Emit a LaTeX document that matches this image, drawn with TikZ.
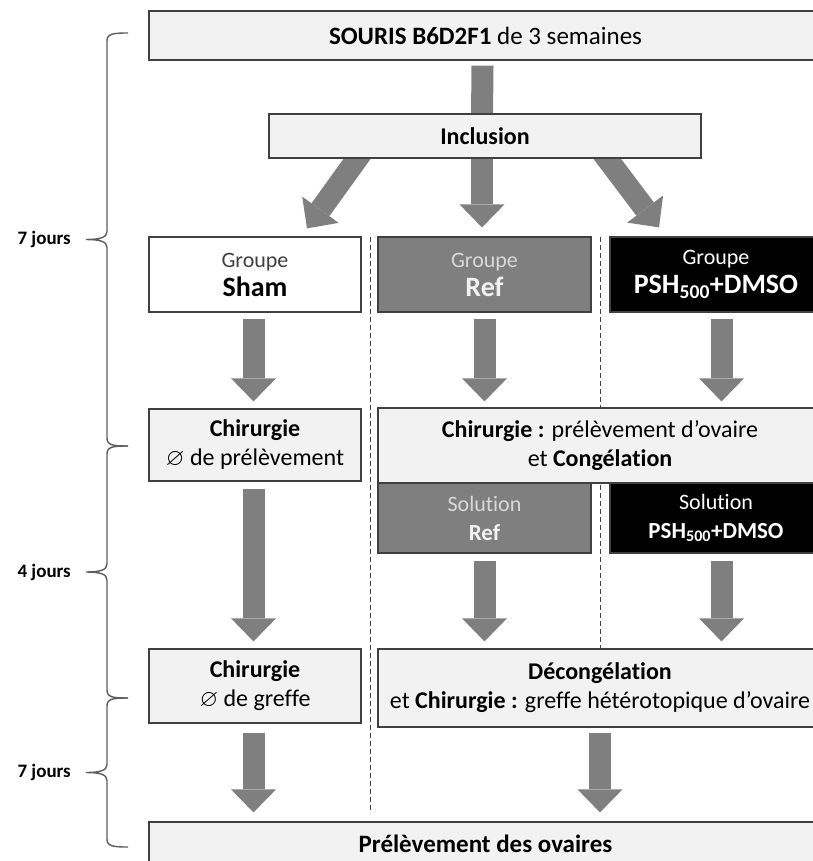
\documentclass[tikz,border=0pt]{standalone}
\usepackage{fontspec}
\setmainfont{Carlito}[Ligatures = NoCommon]
\usepackage{amssymb}
\usetikzlibrary{arrows.meta}
\pgfdeclarelayer{background}
\pgfsetlayers{background,main}

\definecolor{pale}{HTML}{F2F2F2}
\definecolor{mid}{HTML}{7F7F7F}
\definecolor{edge}{HTML}{404040}
\definecolor{light}{HTML}{D9D9D9}
\newcommand{\sz}[2]{\fontsize{#1}{#2}\selectfont}

\tikzset{
    box/.style = {draw = edge, line width = 1.2pt, align = center, inner sep = 0pt, font = \sz{24}{29}},
    pale/.style = {box, fill = pale},
    dark/.style = {box, fill = mid, text = pale},
    night/.style = {box, fill = black, text = white},
    flow/.style = {line width = 22pt, draw = mid, -{Triangle[width = 45pt, length = 23pt, line width = 0pt]}},
    bar/.style = {line width = 22pt, draw = mid},
    sep/.style = {draw = edge, line width = 0.9pt, dash pattern = on 5pt off 3pt},
    curly/.style = {draw = edge!85, line width = 1.4pt},
}

\begin{document}
\begin{tikzpicture}[x = 1pt, y = -1pt]
    \useasboundingbox (0, 0) rectangle (812, 861);

    \node[pale, minimum width = 673pt, minimum height = 49pt, font = \sz{25}{29}] (S) at (485.5, 35.5) {\textbf{SOURIS B6D2F1} de 3 semaines};
    \node[pale, minimum width = 432pt, minimum height = 44pt] (I) at (485, 136) {\textbf{Inclusion}};

    \node[box, fill = white, minimum width = 212pt, minimum height = 75pt] (GS) at (255, 274.5)
        {\sz{22}{26}\color{edge}Groupe\\\color{black}\sz{28}{33}\bfseries Sham};
    \node[dark, minimum width = 213pt, minimum height = 75pt] (GR) at (484.5, 274.5)
        {\sz{22}{26}\color{light}Groupe\\\color{pale}\sz{28}{33}\bfseries Ref};
    \node[night, minimum width = 212pt, minimum height = 75pt] (GP) at (716, 274.5)
        {\sz{22}{26}Groupe\\\sz{28}{33}\bfseries PSH\textsubscript{500}+DMSO};

    \node[pale, minimum width = 212pt, minimum height = 72pt] (CS) at (255, 445)
        {\textbf{Chirurgie}\\$\varnothing$ de prélèvement};
    \node[pale, minimum width = 444pt, minimum height = 75pt] (CC) at (600, 445.5)
        {\textbf{Chirurgie~:} prélèvement d’ovaire\\et \textbf{Congélation}};

    \node[dark, minimum width = 213pt, minimum height = 70pt] (SR) at (484.5, 518)
        {\sz{22}{27}\color{light}Solution\\\color{pale}\sz{23}{27}\bfseries Ref};
    \node[night, minimum width = 212pt, minimum height = 70pt] (SP) at (716, 518)
        {\sz{22}{27}Solution\\\sz{23}{27}\bfseries PSH\textsubscript{500}+DMSO};

    \node[pale, minimum width = 212pt, minimum height = 74pt] (DS) at (255, 686)
        {\sz{24}{31}\textbf{Chirurgie}\\$\varnothing$ de greffe};
    \node[pale, minimum width = 444pt, minimum height = 78pt] (DC) at (600, 688)
        {\sz{24}{27}\textbf{Décongélation}\\et \textbf{Chirurgie~:} greffe hétérotopique d’ovaire};

    \node[pale, minimum width = 673pt, minimum height = 44pt, font = \sz{25}{29}] (P) at (485.5, 844) {\textbf{Prélèvement des ovaires}};

    \coordinate (L1) at (370, 237);
    \coordinate (L2) at (370, 813);
    \coordinate (R1) at (600, 237);
    \coordinate (R2) at (600, 649);

    \begin{pgfonlayer}{background}
        \draw[sep] (L1) to (L2);
        \draw[sep] (R1) to (R2);

        \draw[bar] ([xshift = -3pt, yshift = -5pt]S.south) to ([xshift = -3pt, yshift = -5pt]I.north);
        \draw[flow] ([xshift = -122pt, yshift = 8pt]I.south) to ([xshift = 52pt, yshift = 8pt]GS.north);
        \draw[flow] ([xshift = -3pt, yshift = 8pt]I.south) to ([xshift = -2.5pt, yshift = 9pt]GR.north);
        \draw[flow] ([xshift = 116pt, yshift = 8pt]I.south) to ([xshift = -57pt, yshift = 9pt]GP.north);

        \draw[flow] ([xshift = -1.5pt, yshift = -6pt]GS.south) to ([xshift = -1.5pt, yshift = 7pt]CS.north);
        \draw[flow] ([yshift = -6pt]GR.south) to ([yshift = 6pt]GR.south |- CC.north);
        \draw[flow] ([xshift = 5.5pt, yshift = -6pt]GP.south) to ([xshift = 5.5pt, yshift = 6pt]GP.south |- CC.north);

        \draw[flow] ([xshift = -1.5pt, yshift = -7pt]CS.south) to ([xshift = -1.5pt, yshift = 7pt]DS.north);
        \draw[flow] ([yshift = -7pt]SR.south) to ([yshift = 7pt]SR.south |- DC.north);
        \draw[flow] ([xshift = 5.5pt, yshift = -7pt]SP.south) to ([xshift = 5.5pt, yshift = 7pt]SP.south |- DC.north);

        \draw[flow] ([xshift = -1.5pt, yshift = -9pt]DS.south) to ([xshift = -1.5pt, yshift = 9pt]DS.south |- P.north);
        \draw[flow] ([yshift = -5pt]DC.south) to ([yshift = 9pt]DC.south |- P.north);
    \end{pgfonlayer}

    \foreach \ya/\yb/\nd [count = \jj] in {33/446/7, 446/698/4, 698/847/7} {
        \pgfmathsetmacro\ym{(\ya + \yb) / 2}
        \draw[curly] (128, \ya) .. controls (112, \ya) and (107, {\ya + 1}) .. (107, {\ya + 8})
            -- (107, {\ym - 8}) .. controls (107, {\ym - 2}) and (100, \ym) .. (86, \ym)
            .. controls (100, \ym) and (107, {\ym + 2}) .. (107, {\ym + 8})
            -- (107, {\yb - 8}) .. controls (107, {\yb - 1}) and (112, \yb) .. (128, \yb);
        \node[anchor = east, inner sep = 0pt, font = \bfseries\sz{19}{22}] (J\jj) at (71, \ym) {\nd\ jours};
    }
\end{tikzpicture}
\end{document}
